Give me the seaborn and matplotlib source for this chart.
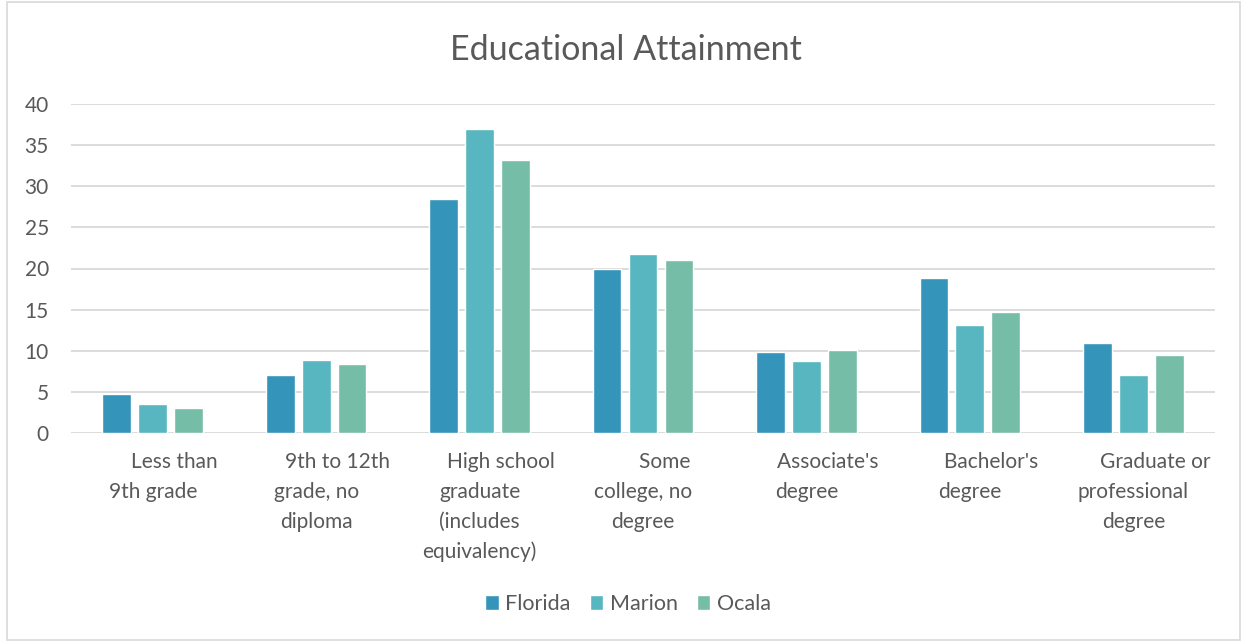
import matplotlib
matplotlib.use("Agg")
import matplotlib.pyplot as plt
import seaborn as sns
import pandas as pd
from matplotlib.patches import Rectangle

categories = [
    "        Less than\n9th grade",
    "        9th to 12th\ngrade, no\ndiploma",
    "        High school\ngraduate\n(includes\nequivalency)",
    "        Some\ncollege, no\ndegree",
    "        Associate's\ndegree",
    "        Bachelor's\ndegree",
    "        Graduate or\nprofessional\ndegree",
]
series = ["Florida", "Marion", "Ocala"]
florida = [4.8, 7.0, 28.5, 19.9, 9.8, 18.9, 11.0]
marion = [3.5, 8.9, 37.0, 21.8, 8.7, 13.1, 7.1]
ocala = [3.1, 8.4, 33.2, 21.0, 10.1, 14.7, 9.5]
colors = ["#3494BA", "#58B6C0", "#75BDA7"]
yticks = [0, 5, 10, 15, 20, 25, 30, 35, 40]

rows = []
for name, vals in zip(series, [florida, marion, ocala]):
    for c, v in zip(categories, vals):
        rows.append({"Category": c, "Series": name, "Value": v})
df = pd.DataFrame(rows)

sns.set_theme(style="white")
plt.rcParams["font.family"] = ["Lato", "DejaVu Sans"]

fig = plt.figure(figsize=(12.44, 6.41), dpi=100)
ax = fig.add_axes([71 / 1244, 1 - 433 / 641, (1215 - 71) / 1244, (433 - 104) / 641])

sns.barplot(data=df, x="Category", y="Value", hue="Series", order=categories,
            hue_order=series, palette=colors, width=0.66, gap=0.2,
            saturation=1, ax=ax, legend=True)

ax.set_ylim(0, 40)
ax.set_xlim(-0.5, len(categories) - 0.5)
ax.set_yticks(yticks)
ax.set_xlabel("")
ax.set_ylabel("")
for s in ax.spines.values():
    s.set_visible(False)
ax.yaxis.grid(True, color="#D9D9D9", linewidth=1.3)
ax.set_axisbelow(True)
ax.tick_params(axis="y", length=0, pad=16, labelsize=15, labelcolor="#595959")
ax.tick_params(axis="x", length=0, pad=14, labelsize=15, labelcolor="#595959")
for lbl in ax.get_xticklabels():
    lbl.set_linespacing(1.6)
    lbl.set_horizontalalignment("center")
    lbl.set_multialignment("center")
    lbl.set_verticalalignment("top")

fig.text(0.503, 1 - 50 / 641, "Educational Attainment", ha="center", va="center",
         fontsize=24.5, color="#595959")

handles, labels = ax.get_legend_handles_labels()
ax.legend(handles, labels, loc="center", bbox_to_anchor=(628 / 1244, 1 - 604 / 641),
          bbox_transform=fig.transFigure, ncol=3, frameon=False, fontsize=15.5,
          handlelength=0.62, handleheight=0.7, handletextpad=0.3, columnspacing=0.9,
          labelcolor="#595959")

fig.patches.append(Rectangle((7 / 1244, 1 / 641), (1240 - 7) / 1244, (639 - 1) / 641,
                             transform=fig.transFigure, fill=False,
                             edgecolor="#D9D9D9", linewidth=1.2))

fig.savefig("out.png", dpi=100)
